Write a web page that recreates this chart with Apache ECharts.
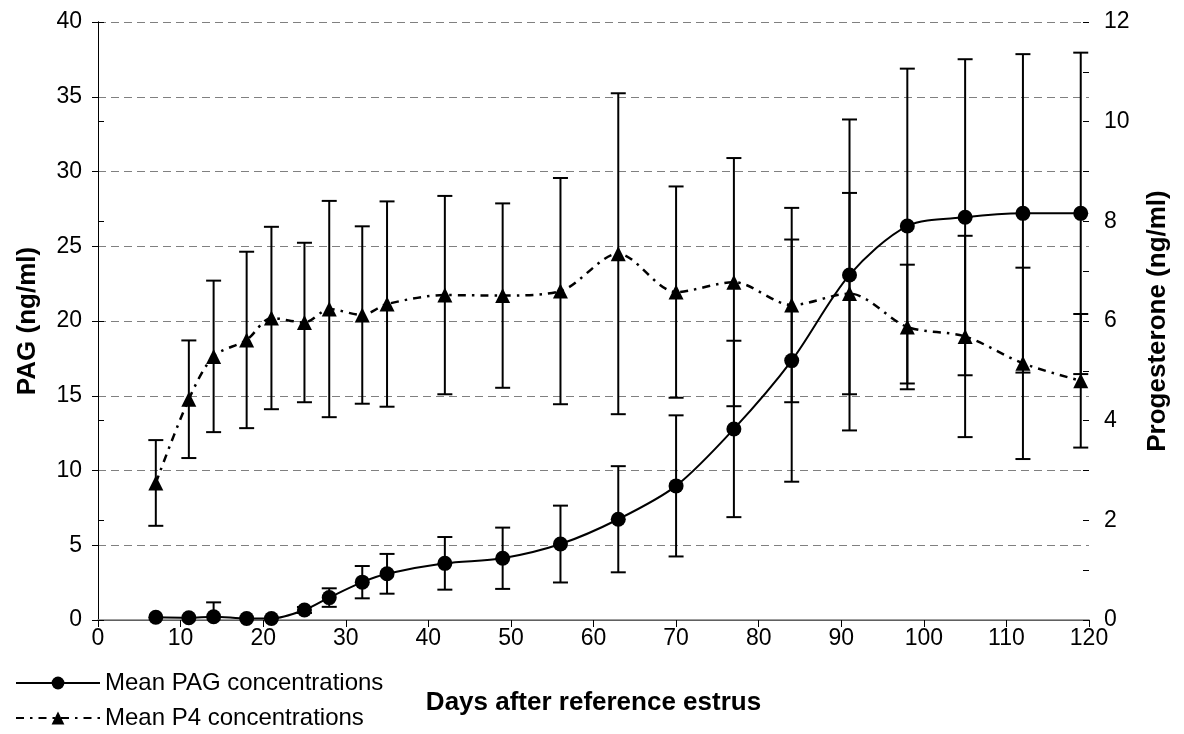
<!DOCTYPE html>
<html>
<head>
<meta charset="utf-8">
<script src="https://cdn.jsdelivr.net/npm/echarts@6/dist/echarts.min.js"></script>
<style>
  html, body { margin: 0; padding: 0; background: #fff; }
  #chart { width: 1184px; height: 734px; }
</style>
</head>
<body>
<div id="chart"></div>
<script>
// Sampling days after the reference estrus
const days = [7, 11, 14, 18, 21, 25, 28, 32, 35, 42, 49, 56, 63, 70, 77, 84, 91, 98, 105, 112, 119];

// Mean PAG concentrations (ng/ml) and their standard deviations
const pagMean = [0.18, 0.15, 0.22, 0.1, 0.1, 0.67, 1.5, 2.53, 3.09, 3.79, 4.13, 5.08, 6.74, 8.97, 12.78, 17.35, 23.08, 26.35, 26.94, 27.2, 27.2];
const pagSD   = [0, 0, 0.96, 0, 0, 0.2, 0.62, 1.08, 1.33, 1.76, 2.05, 2.57, 3.55, 4.72, 5.9, 8.1, 10.4, 10.53, 10.57, 10.65, 10.75];

// Mean progesterone (P4) concentrations (ng/ml) and their standard deviations
const p4Mean = [2.75, 4.43, 5.29, 5.62, 6.06, 5.97, 6.24, 6.12, 6.34, 6.52, 6.51, 6.6, 7.35, 6.58, 6.78, 6.32, 6.55, 5.88, 5.69, 5.15, 4.8];
const p4SD   = [0.86, 1.18, 1.52, 1.77, 1.83, 1.6, 2.17, 1.78, 2.06, 1.99, 1.85, 2.27, 3.22, 2.12, 2.49, 1.95, 2.02, 1.25, 2.02, 1.92, 1.34];

const pagLabel = 'Mean PAG concentrations';
const p4Label = 'Mean P4 concentrations';

const FONT = 'Liberation Sans, Arial, sans-serif';

function pairs(xs, ys) {
  return xs.map((x, i) => [x, ys[i]]);
}

function bars(xs, means, sds) {
  const out = [];
  xs.forEach((x, i) => {
    if (sds[i] > 0) out.push([x, means[i] - sds[i], means[i] + sds[i]]);
  });
  return out;
}

// Vertical error bar with horizontal caps at both ends
function renderErrorBar(params, api) {
  const x = api.value(0);
  const lo = api.coord([x, api.value(1)]);
  const hi = api.coord([x, api.value(2)]);
  const hw = 7.5;
  const style = { stroke: '#000', lineWidth: 2, fill: null };
  return {
    type: 'group',
    children: [
      { type: 'line', shape: { x1: hi[0], y1: hi[1], x2: lo[0], y2: lo[1] }, style },
      { type: 'line', shape: { x1: hi[0] - hw, y1: hi[1], x2: hi[0] + hw, y2: hi[1] }, style },
      { type: 'line', shape: { x1: lo[0] - hw, y1: lo[1], x2: lo[0] + hw, y2: lo[1] }, style }
    ]
  };
}

const chart = echarts.init(document.getElementById('chart'), null, { renderer: 'canvas' });

const labelStyle = { color: '#000', fontSize: 23, fontFamily: FONT };
const nameStyle = { color: '#000', fontSize: 26, fontWeight: 'bold', fontFamily: FONT };

chart.setOption({
  animation: false,
  backgroundColor: '#fff',
  grid: { left: 98, right: 95, top: 22, bottom: 114, containLabel: false },
  legend: {
    orient: 'vertical',
    left: 15,
    top: 671,
    padding: 0,
    itemGap: 11,
    itemWidth: 84,
    itemHeight: 16,
    textStyle: { color: '#000', fontSize: 24, fontFamily: FONT },
    data: [pagLabel, p4Label]
  },
  xAxis: [
    {
      type: 'value',
      min: 0, max: 120, interval: 10,
      position: 'bottom',
      name: 'Days after reference estrus',
      nameLocation: 'middle',
      nameGap: 70,
      nameTextStyle: nameStyle,
      axisLine: { lineStyle: { color: '#000', width: 1 } },
      axisTick: { length: 7, lineStyle: { color: '#000' } },
      axisLabel: Object.assign({ margin: 7 }, labelStyle),
      splitLine: { show: false }
    },
    {
      // frame line along the top of the plot area
      type: 'value',
      min: 0, max: 120,
      position: 'top',
      axisLine: { show: true, lineStyle: { color: '#808080', width: 1.5 } },
      axisTick: { show: false },
      axisLabel: { show: false },
      splitLine: { show: false }
    }
  ],
  yAxis: [
    {
      type: 'value',
      min: 0, max: 40, interval: 5,
      position: 'left',
      name: 'PAG (ng/ml)',
      nameLocation: 'middle',
      nameGap: 57,
      nameTextStyle: nameStyle,
      axisLine: { show: true, lineStyle: { color: '#000', width: 1 } },
      axisTick: { show: true, length: 6, lineStyle: { color: '#000' } },
      axisLabel: Object.assign({ margin: 16 }, labelStyle),
      splitLine: { show: true, lineStyle: { color: '#808080', width: 1, type: [8, 5] } }
    },
    {
      type: 'value',
      min: 0, max: 12, interval: 2,
      position: 'right',
      name: 'Progesterone (ng/ml)',
      nameLocation: 'middle',
      nameGap: 56,
      nameTextStyle: nameStyle,
      axisLine: { show: true, lineStyle: { color: '#000', width: 1 } },
      axisTick: { show: true, length: 6, lineStyle: { color: '#000' } },
      axisLabel: Object.assign({ margin: 15 }, labelStyle),
      splitLine: { show: false }
    },
    {
      // inner ticks of the progesterone scale, every 1 ng/ml
      type: 'value',
      min: 0, max: 12, interval: 1,
      position: 'right',
      axisLine: { show: false },
      axisTick: { show: true, inside: true, length: 6, lineStyle: { color: '#000' } },
      axisLabel: { show: false },
      splitLine: { show: false }
    }
  ],
  series: [
    {
      name: 'PAG SD',
      type: 'custom',
      xAxisIndex: 0,
      yAxisIndex: 0,
      clip: true,
      renderItem: renderErrorBar,
      encode: { x: 0, y: [1, 2] },
      data: bars(days, pagMean, pagSD),
      z: 2
    },
    {
      name: 'P4 SD',
      type: 'custom',
      xAxisIndex: 0,
      yAxisIndex: 1,
      clip: true,
      renderItem: renderErrorBar,
      encode: { x: 0, y: [1, 2] },
      data: bars(days, p4Mean, p4SD),
      z: 2
    },
    {
      name: p4Label,
      type: 'line',
      xAxisIndex: 0,
      yAxisIndex: 1,
      smooth: 0.3,
      symbol: 'triangle',
      symbolSize: 15,
      itemStyle: { color: '#000' },
      lineStyle: { color: '#000', width: 2.5, type: [8, 6, 2.5, 6] },
      data: pairs(days, p4Mean),
      z: 3
    },
    {
      name: pagLabel,
      type: 'line',
      xAxisIndex: 0,
      yAxisIndex: 0,
      smooth: 0.3,
      symbol: 'circle',
      symbolSize: 15,
      itemStyle: { color: '#000' },
      lineStyle: { color: '#000', width: 2 },
      data: pairs(days, pagMean),
      z: 4
    }
  ]
});
</script>
</body>
</html>
